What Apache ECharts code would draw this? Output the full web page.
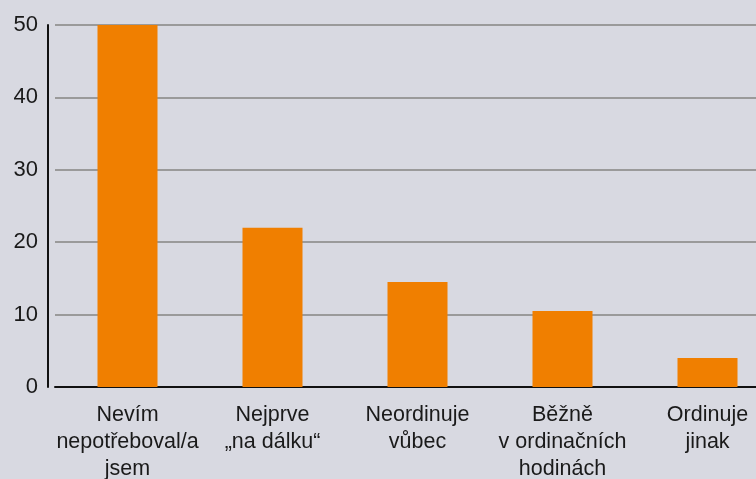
<!DOCTYPE html>
<html>
<head>
<meta charset="utf-8">
<script src="https://cdn.jsdelivr.net/npm/echarts@6/dist/echarts.min.js"></script>
<style>
  html, body { margin: 0; padding: 0; background: #d8d9e1; }
  #chart { width: 756px; height: 479px; }
</style>
</head>
<body>
<div id="chart"></div>
<script>
const categories = [
  "Nevím\nnepotřeboval/a\njsem",
  "Nejprve\n„na dálku“",
  "Neordinuje\nvůbec",
  "Běžně\nv ordinačních\nhodinách",
  "Ordinuje\njinak"
];
const values = [50, 22, 14.5, 10.5, 4];
const yTicks = [0, 10, 20, 30, 40, 50];

const chart = echarts.init(document.getElementById("chart"));

chart.setOption({
  backgroundColor: "#d8d9e1",
  animation: false,
  textStyle: { fontFamily: "Liberation Sans" },
  grid: { left: 55, top: 25, width: 725, height: 362, outerBoundsMode: "none", containLabel: false },
  xAxis: {
    type: "category",
    data: categories,
    axisTick: { show: false },
    axisLine: { lineStyle: { color: "#111", width: 2 } },
    axisLabel: {
      color: "#1a1a1a",
      fontSize: 21.5,
      lineHeight: 27,
      margin: 15,
      interval: 0
    }
  },
  yAxis: {
    type: "value",
    min: yTicks[0],
    max: yTicks[yTicks.length - 1],
    interval: 10,
    offset: 7,
    axisLine: { show: true, lineStyle: { color: "#111", width: 2 } },
    axisTick: { show: false },
    axisLabel: { color: "#1a1a1a", fontSize: 22, margin: 10 },
    splitLine: { lineStyle: { color: "#9a9a9a", width: 2 } }
  },
  series: [
    {
      type: "bar",
      data: values,
      barWidth: 60,
      itemStyle: { color: "#f07f00" }
    }
  ]
});
</script>
</body>
</html>
